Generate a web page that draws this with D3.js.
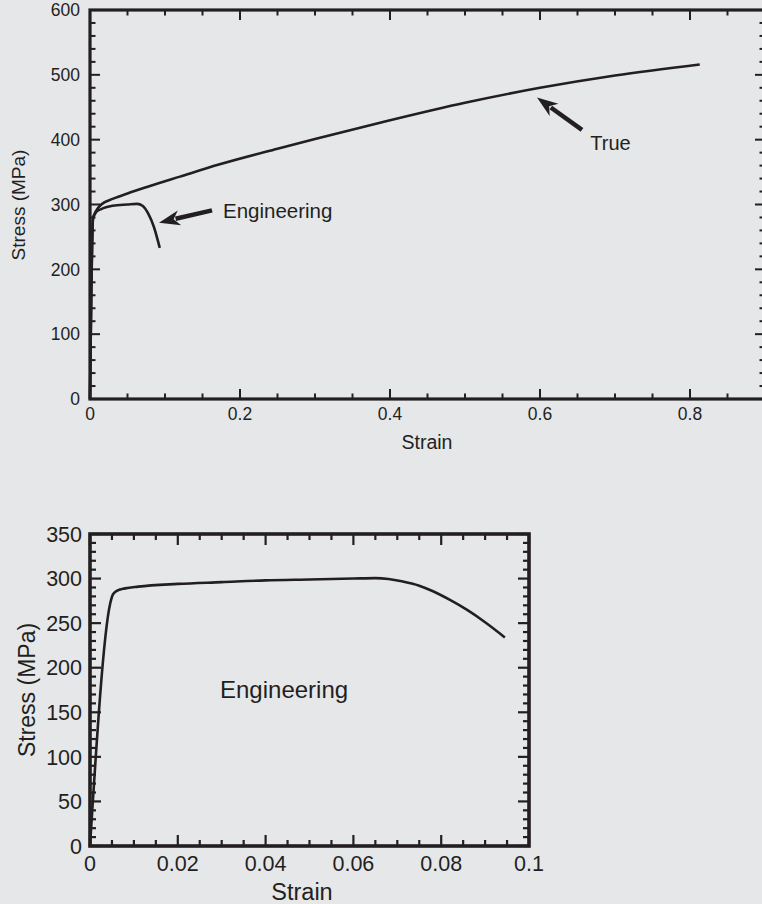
<!DOCTYPE html>
<html><head><meta charset="utf-8">
<script src="https://cdn.jsdelivr.net/npm/d3@7"></script>
<style>
html,body{margin:0;padding:0;background:#e6e7e9;}
svg{display:block;}
text{font-family:"Liberation Sans",Arial,Helvetica,sans-serif;fill:#231f20;}
</style></head><body>
<svg id="c" width="762" height="904"></svg>
<script>
// ---- data ----
const trueStrain   = [0, 0.004, 0.008, 0.015, 0.031, 0.05, 0.076, 0.12, 0.173, 0.25, 0.3, 0.4, 0.5, 0.6, 0.7, 0.813];
const trueStress   = [0, 278, 290, 300, 309, 317, 327, 343, 362, 386, 401, 430, 457, 480, 499, 516];
const engStrainTop = [0, 0.004, 0.008, 0.015, 0.03, 0.05, 0.063, 0.07, 0.078, 0.085, 0.093];
const engStressTop = [0, 278, 288, 293, 298, 300, 301, 298, 285, 266, 233];
const engStrain    = [0, 0.0046, 0.0052, 0.006, 0.008, 0.011, 0.02, 0.03, 0.04, 0.05, 0.06, 0.065, 0.068, 0.071, 0.075, 0.078, 0.082, 0.086, 0.09, 0.0945];
const engStress    = [0, 272, 282, 286, 289, 291, 294, 296, 298, 299, 300, 300.5, 299.5, 297, 292, 286, 276, 264.5, 251, 234];
const topXTicks = [0, 0.2, 0.4, 0.6, 0.8];
const topYTicks = [0, 100, 200, 300, 400, 500, 600];
const botXTicks = [0, 0.02, 0.04, 0.06, 0.08, 0.1];
const botYTicks = [0, 50, 100, 150, 200, 250, 300, 350];
const topXTickLabels = ["0", "0.2", "0.4", "0.6", "0.8"];
const botXTickLabels = ["0", "0.02", "0.04", "0.06", "0.08", "0.1"];
// annotations (data space): [tailStrain, tailStress, tipStrain, tipStress]
const engArrow  = [0.1627, 291, 0.092, 272];
const trueArrow = [0.656, 415, 0.596, 465];
const engLabelPos  = [0.1773, 291];
const trueLabelPos = [0.667, 395];

const ink = "#231f20";
const svg = d3.select("#c");

function frame(g, x, y, o) {
  const [x0, x1] = x.range(), [y0, y1] = y.range();
  const xmin = d3.range(o.xDom[0], o.xDom[1] + 1e-9, o.xMinor);
  const ymin = d3.range(o.yDom[0], o.yDom[1] + 1e-9, o.yMinor);
  const isMaj = (v, step) => Math.abs(v / step - Math.round(v / step)) < 1e-6;
  const tk = g.append("g").attr("stroke", ink).attr("stroke-width", o.tickW);
  xmin.forEach(v => {
    const L = isMaj(v, o.xMajor) ? o.majL : o.minL;
    const px = x(v);
    tk.append("line").attr("x1", px).attr("x2", px).attr("y1", y0).attr("y2", y0 - L);
    tk.append("line").attr("x1", px).attr("x2", px).attr("y1", y1).attr("y2", y1 + L);
  });
  ymin.forEach(v => {
    const L = isMaj(v, o.yMajor) ? o.majL : o.minL;
    const py = y(v);
    tk.append("line").attr("x1", x0).attr("x2", x0 + L).attr("y1", py).attr("y2", py);
    tk.append("line").attr("x1", x1).attr("x2", x1 - L).attr("y1", py).attr("y2", py);
  });
  g.append("rect").attr("x", x0).attr("y", y1).attr("width", x1 - x0).attr("height", y0 - y1)
    .attr("fill", "none").attr("stroke", ink).attr("stroke-width", o.frameW);
}

function arrow(g, x, y, a, shaftW, headL, headW) {
  const tx = x(a[0]), ty = y(a[1]), hx = x(a[2]), hy = y(a[3]);
  const dx = hx - tx, dy = hy - ty, len = Math.hypot(dx, dy);
  const ux = dx / len, uy = dy / len, nx = -uy, ny = ux;
  const bx = hx - ux * headL, by = hy - uy * headL;
  g.append("line").attr("x1", tx).attr("y1", ty).attr("x2", bx + ux * 2).attr("y2", by + uy * 2)
    .attr("stroke", ink).attr("stroke-width", shaftW);
  g.append("path").attr("fill", ink)
    .attr("d", `M${hx},${hy}L${bx + nx * headW / 2 - ux * 2},${by + ny * headW / 2 - uy * 2}L${bx + ux * 4},${by + uy * 4}L${bx - nx * headW / 2 - ux * 2},${by - ny * headW / 2 - uy * 2}Z`);
}

// ---------- TOP CHART ----------
{
  const x = d3.scaleLinear().domain([0, 0.9]).range([90, 765]);
  const y = d3.scaleLinear().domain([0, 600]).range([399, 10]);
  const g = svg.append("g");
  const line = d3.line().x(d => x(d[0])).y(d => y(d[1])).curve(d3.curveMonotoneX);
  g.append("path").datum(d3.zip(trueStrain, trueStress)).attr("d", line)
    .attr("fill", "none").attr("stroke", ink).attr("stroke-width", 2.6).attr("stroke-linejoin", "round");
  g.append("path").datum(d3.zip(engStrainTop, engStressTop)).attr("d", line)
    .attr("fill", "none").attr("stroke", ink).attr("stroke-width", 2.6).attr("stroke-linejoin", "round");
  frame(g, x, y, {xDom: [0, 0.9], yDom: [0, 600], xMinor: 0.05, xMajor: 0.2, yMinor: 20, yMajor: 100,
    majL: 10, minL: 5.5, tickW: 2, frameW: 3.2});
  g.selectAll(".yl").data(topYTicks).join("text")
    .attr("x", 80).attr("y", d => y(d)).attr("dy", "0.36em").attr("text-anchor", "end")
    .attr("font-size", 17.5).text(d => d);
  g.selectAll(".xl").data(topXTicks).join("text")
    .attr("x", d => x(d)).attr("y", 414).attr("dy", "0.36em").attr("text-anchor", "middle")
    .attr("font-size", 17.5).text((d, i) => topXTickLabels[i]);
  g.append("text").attr("x", 427).attr("y", 442).attr("dy", "0.36em").attr("text-anchor", "middle")
    .attr("font-size", 19.5).text("Strain");
  g.append("text").attr("transform", "translate(18,205) rotate(-90)").attr("dy", "0.36em")
    .attr("text-anchor", "middle").attr("font-size", 19).text("Stress (MPa)");
  arrow(g, x, y, engArrow, 4.5, 19, 15);
  arrow(g, x, y, trueArrow, 4.5, 19, 15);
  g.append("text").attr("x", x(engLabelPos[0])).attr("y", y(engLabelPos[1])).attr("dy", "0.36em")
    .attr("font-size", 20.5).text("Engineering");
  g.append("text").attr("x", x(trueLabelPos[0])).attr("y", y(trueLabelPos[1])).attr("dy", "0.36em")
    .attr("font-size", 20).text("True");
}

// ---------- BOTTOM CHART ----------
{
  const x = d3.scaleLinear().domain([0, 0.1]).range([90, 529]);
  const y = d3.scaleLinear().domain([0, 350]).range([846, 534]);
  const g = svg.append("g");
  const line = d3.line().x(d => x(d[0])).y(d => y(d[1])).curve(d3.curveMonotoneX);
  g.append("path").datum(d3.zip(engStrain, engStress)).attr("d", line)
    .attr("fill", "none").attr("stroke", ink).attr("stroke-width", 2.6).attr("stroke-linejoin", "round");
  frame(g, x, y, {xDom: [0, 0.1], yDom: [0, 350], xMinor: 0.005, xMajor: 0.02, yMinor: 10, yMajor: 50,
    majL: 11, minL: 6, tickW: 2.2, frameW: 3.6});
  g.selectAll(".yl").data(botYTicks).join("text")
    .attr("x", 82).attr("y", d => y(d)).attr("dy", "0.36em").attr("text-anchor", "end")
    .attr("font-size", 21.5).text(d => d);
  g.selectAll(".xl").data(botXTicks).join("text")
    .attr("x", d => x(d)).attr("y", 863).attr("dy", "0.36em").attr("text-anchor", "middle")
    .attr("font-size", 21.5).text((d, i) => botXTickLabels[i]);
  g.append("text").attr("x", 302).attr("y", 892).attr("dy", "0.36em").attr("text-anchor", "middle")
    .attr("font-size", 23.5).text("Strain");
  g.append("text").attr("transform", "translate(27,690) rotate(-90)").attr("dy", "0.36em")
    .attr("text-anchor", "middle").attr("font-size", 23).text("Stress (MPa)");
  g.append("text").attr("x", 220).attr("y", 689).attr("dy", "0.36em")
    .attr("font-size", 24).text("Engineering");
}
</script>
</body></html>
